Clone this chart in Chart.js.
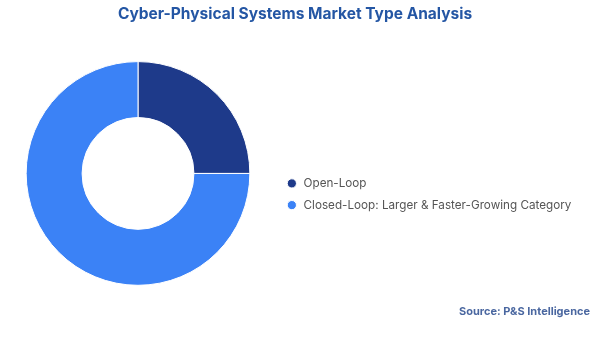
<!DOCTYPE html>
<html lang="en">
<head>
    <meta charset="UTF-8">
    <title>Cyber-Physical Systems Market Type Analysis</title>
    <script src="https://cdn.jsdelivr.net/npm/chart.js"></script>
    <style>
        body { margin: 0; background: #fff; }
        .wrap { position: relative; width: 600px; height: 337px; }
    </style>
</head>
<body>
    <div class="wrap"><canvas id="cpsChart"></canvas></div>
    <script>
        const categories = ['Open-Loop', 'Closed-Loop: Larger & Faster-Growing Category'];
        const shares = [25, 75];
        const colors = ['#1e3a8a', '#3b82f6'];

        const fontFamily = 'Inter, "Open Sans", sans-serif';
        const legendBoxWidth = 314;

        // Chart.js caps a side legend at half the width; give it a fixed width instead
        const legendWidth = {
            id: 'legendWidth',
            beforeLayout(chart) {
                const legend = chart.legend;
                if (!legend || legend._fixedWidth) return;
                const origFit = legend.fit;
                legend.fit = function () {
                    origFit.call(this);
                    this.width = legendBoxWidth;
                };
                legend._fixedWidth = true;
            }
        };

        new Chart(document.getElementById('cpsChart'), {
            type: 'doughnut',
            data: {
                labels: categories,
                datasets: [{
                    data: shares,
                    backgroundColor: colors,
                    borderColor: '#fff',
                    borderWidth: 1
                }]
            },
            options: {
                responsive: true,
                maintainAspectRatio: false,
                animation: false,
                cutout: '50%',
                layout: { padding: { left: 0, right: 10, top: 0, bottom: 0 } },
                plugins: {
                    title: {
                        display: true,
                        text: 'Cyber-Physical Systems Market Type Analysis',
                        color: '#2456a4',
                        font: { family: fontFamily, size: 15.5, weight: '700' },
                        padding: { top: 5, bottom: 37.5 }
                    },
                    subtitle: {
                        display: true,
                        position: 'bottom',
                        align: 'end',
                        text: 'Source: P&S Intelligence',
                        color: '#4a67a0',
                        font: { family: fontFamily, size: 11, weight: '700' },
                        padding: { top: 19, bottom: 19 }
                    },
                    legend: {
                        position: 'right',
                        align: 'center',
                        // empty title only pushes the two items a little lower
                        title: {
                            display: true,
                            text: ' ',
                            font: { size: 10 },
                            padding: { top: 39.5, bottom: 0 }
                        },
                        labels: {
                            usePointStyle: true,
                            pointStyle: 'circle',
                            boxHeight: 6.5,
                            padding: 10,
                            color: '#555',
                            font: { family: fontFamily, size: 11.7 }
                        }
                    },
                    tooltip: { enabled: false }
                }
            },
            plugins: [legendWidth]
        });
    </script>
</body>
</html>
